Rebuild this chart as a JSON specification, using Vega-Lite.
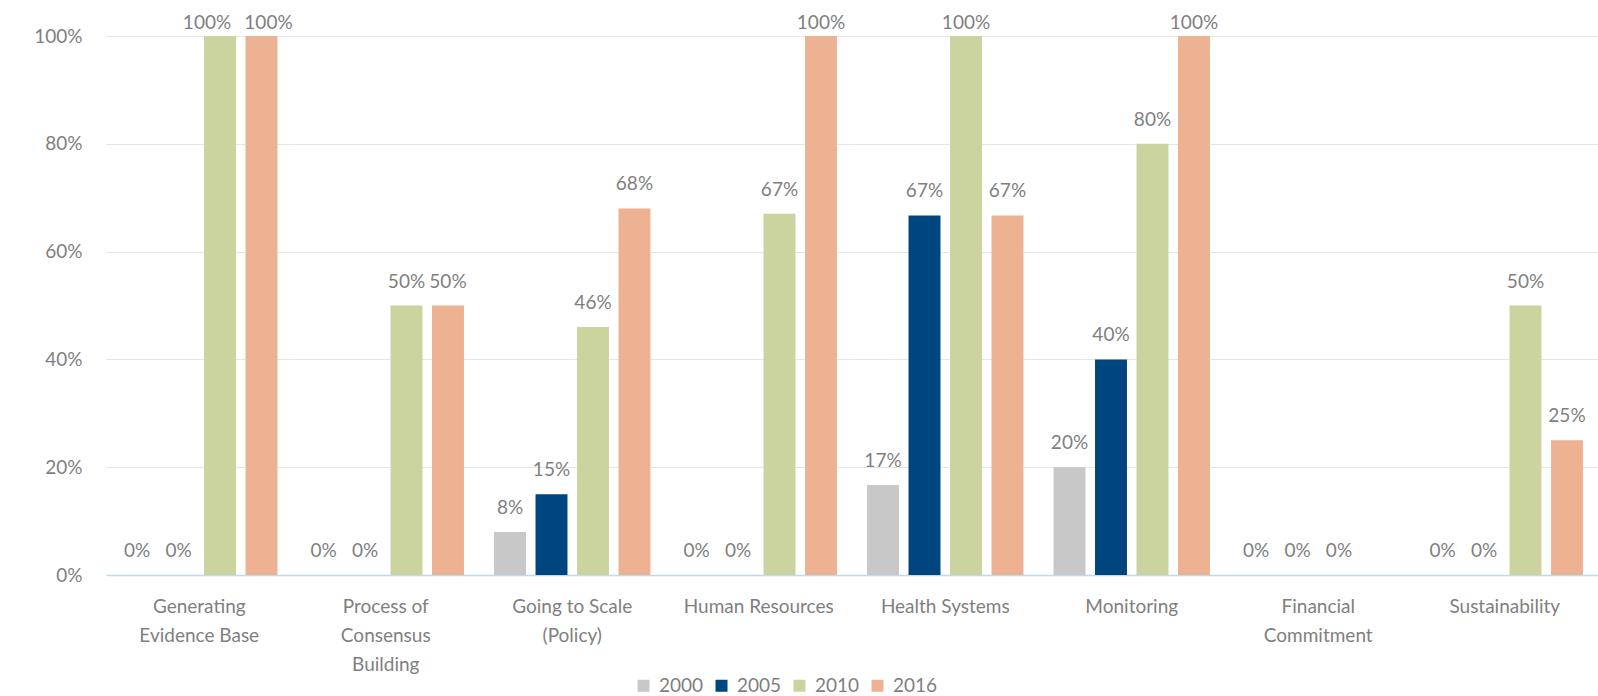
{
  "$schema": "https://vega.github.io/schema/vega-lite/v6.json",
  "width": 1492,
  "height": 539,
  "autosize": {"type": "none"},
  "padding": {"left": 106, "top": 36, "right": 0, "bottom": 121},
  "background": "white",
  "config": {
    "font": "Lato",
    "view": {"stroke": null}
  },
  "data": {
    "values": [
      {"category": "Generating Evidence Base", "year": "2000", "value": 0},
      {"category": "Generating Evidence Base", "year": "2005", "value": 0},
      {"category": "Generating Evidence Base", "year": "2010", "value": 1},
      {"category": "Generating Evidence Base", "year": "2016", "value": 1},
      {"category": "Process of Consensus Building", "year": "2000", "value": 0},
      {"category": "Process of Consensus Building", "year": "2005", "value": 0},
      {"category": "Process of Consensus Building", "year": "2010", "value": 0.5},
      {"category": "Process of Consensus Building", "year": "2016", "value": 0.5},
      {"category": "Going to Scale (Policy)", "year": "2000", "value": 0.08},
      {"category": "Going to Scale (Policy)", "year": "2005", "value": 0.15},
      {"category": "Going to Scale (Policy)", "year": "2010", "value": 0.46},
      {"category": "Going to Scale (Policy)", "year": "2016", "value": 0.68},
      {"category": "Human Resources", "year": "2000", "value": 0},
      {"category": "Human Resources", "year": "2005", "value": 0},
      {"category": "Human Resources", "year": "2010", "value": 0.67},
      {"category": "Human Resources", "year": "2016", "value": 1},
      {"category": "Health Systems", "year": "2000", "value": 0.167},
      {"category": "Health Systems", "year": "2005", "value": 0.667},
      {"category": "Health Systems", "year": "2010", "value": 1},
      {"category": "Health Systems", "year": "2016", "value": 0.667},
      {"category": "Monitoring", "year": "2000", "value": 0.2},
      {"category": "Monitoring", "year": "2005", "value": 0.4},
      {"category": "Monitoring", "year": "2010", "value": 0.8},
      {"category": "Monitoring", "year": "2016", "value": 1},
      {"category": "Financial Commitment", "year": "2000", "value": 0},
      {"category": "Financial Commitment", "year": "2005", "value": 0},
      {"category": "Financial Commitment", "year": "2010", "value": 0},
      {"category": "Sustainability", "year": "2000", "value": 0},
      {"category": "Sustainability", "year": "2005", "value": 0},
      {"category": "Sustainability", "year": "2010", "value": 0.5},
      {"category": "Sustainability", "year": "2016", "value": 0.25}
    ]
  },
  "encoding": {
    "x": {
      "field": "category",
      "type": "nominal",
      "sort": ["Generating Evidence Base", "Process of Consensus Building", "Going to Scale (Policy)", "Human Resources", "Health Systems", "Monitoring", "Financial Commitment", "Sustainability"],
      "scale": {"paddingInner": 0.11, "paddingOuter": 0.055},
      "axis": {
        "title": null,
        "labelAngle": 0,
        "ticks": false,
        "domainColor": "#bfdcef",
        "domainWidth": 1.5,
        "labelFontSize": 19,
        "labelColor": "#7f7f7f",
        "labelPadding": 22,
        "labelBaseline": "top",
        "labelLineHeight": 29,
        "labelLimit": 300,
        "grid": false,
        "labelExpr": "datum.label == 'Generating Evidence Base' ? ['Generating', 'Evidence Base'] : datum.label == 'Process of Consensus Building' ? ['Process of', 'Consensus', 'Building'] : datum.label == 'Going to Scale (Policy)' ? ['Going to Scale', '(Policy)'] : datum.label == 'Financial Commitment' ? ['Financial', 'Commitment'] : datum.label"
      }
    },
    "xOffset": {
      "field": "year",
      "type": "nominal",
      "scale": {"paddingInner": 0.23, "paddingOuter": 0.115}
    },
    "y": {
      "field": "value",
      "type": "quantitative",
      "scale": {"domain": [0, 1]},
      "axis": {
        "title": null,
        "values": [0, 0.2, 0.4, 0.6, 0.8, 1],
        "format": ".0%",
        "domain": false,
        "ticks": false,
        "labelFontSize": 19,
        "labelColor": "#7f7f7f",
        "labelPadding": 24,
        "gridColor": "#e6e6e6",
        "gridWidth": 1.2
      }
    }
  },
  "layer": [
    {
      "mark": {"type": "bar"},
      "encoding": {
        "color": {
          "field": "year",
          "type": "nominal",
          "scale": {"domain": ["2000", "2005", "2010", "2016"], "range": ["#c8c8c8", "#00467e", "#cbd49f", "#edb292"]},
          "legend": {
            "title": null,
            "orient": "none",
            "legendX": 528,
            "legendY": 640,
            "direction": "horizontal",
            "symbolType": "square",
            "symbolSize": 144,
            "symbolStrokeWidth": 0,
            "labelFontSize": 19,
            "labelColor": "#7f7f7f",
            "labelOffset": 6,
            "columnPadding": 8
          }
        }
      }
    },
    {
      "transform": [{"filter": "datum.value < 1"}],
      "mark": {"type": "text", "dy": -18, "baseline": "alphabetic", "fontSize": 19, "color": "#7f7f7f"},
      "encoding": {"text": {"field": "value", "type": "quantitative", "format": ".0%"}}
    },
    {
      "transform": [{"filter": "datum.value >= 1 && datum.category != 'Generating Evidence Base'"}],
      "mark": {"type": "text", "dy": -7, "baseline": "alphabetic", "fontSize": 19, "color": "#7f7f7f"},
      "encoding": {"text": {"field": "value", "type": "quantitative", "format": ".0%"}}
    },
    {
      "transform": [{"filter": "datum.value >= 1 && datum.category == 'Generating Evidence Base' && datum.year == '2010'"}],
      "mark": {"type": "text", "dy": -7, "dx": -13, "baseline": "alphabetic", "fontSize": 19, "color": "#7f7f7f"},
      "encoding": {"text": {"field": "value", "type": "quantitative", "format": ".0%"}}
    },
    {
      "transform": [{"filter": "datum.value >= 1 && datum.category == 'Generating Evidence Base' && datum.year == '2016'"}],
      "mark": {"type": "text", "dy": -7, "dx": 7, "baseline": "alphabetic", "fontSize": 19, "color": "#7f7f7f"},
      "encoding": {"text": {"field": "value", "type": "quantitative", "format": ".0%"}}
    }
  ]
}
